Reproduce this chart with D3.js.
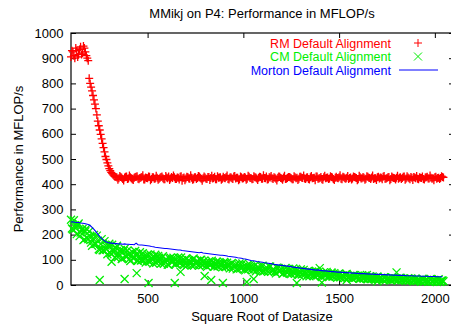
<!DOCTYPE html>
<html><head><meta charset="utf-8">
<script src="https://cdn.jsdelivr.net/npm/d3@7"></script>
<style>
html,body{margin:0;padding:0;background:#fff;}
svg{display:block;font-family:"Liberation Sans",Arial,Helvetica,sans-serif;}
</style></head>
<body>
<svg id="chart" width="451" height="329"></svg>
<script>
const title = "MMikj on P4: Performance in MFLOP/s";
const xLabel = "Square Root of Datasize";
const yLabel = "Performance in MFLOP/s";
const seriesNames = ["RM Default Alignment", "CM Default Alignment", "Morton Default Alignment"];
const xTicks = [500, 1000, 1500, 2000];
const yTicks = [0, 100, 200, 300, 400, 500, 600, 700, 800, 900, 1000];

// matrix sizes, first sampling grid
const sizes = [
 100,110,120,130,140,150,160,170,180,190,
 200,210,220,230,240,250,260,270,280,290,
 300,310,320,330,340,350,360,370,380,390,
 400,410,420,430,440,450,460,470,480,490,
 500,510,520,530,540,550,560,570,580,590,
 600,610,620,630,640,650,660,670,680,690,
 700,710,720,730,740,750,760,770,780,790,
 800,810,820,830,840,850,860,870,880,890,
 900,910,920,930,940,950,960,970,980,990,
 1000,1010,1020,1030,1040,1050,1060,1070,1080,1090,
 1100,1110,1120,1130,1140,1150,1160,1170,1180,1190,
 1200,1210,1220,1230,1240,1250,1260,1270,1280,1290,
 1300,1310,1320,1330,1340,1350,1360,1370,1380,1390,
 1400,1410,1420,1430,1440,1450,1460,1470,1480,1490,
 1500,1510,1520,1530,1540,1550,1560,1570,1580,1590,
 1600,1610,1620,1630,1640,1650,1660,1670,1680,1690,
 1700,1710,1720,1730,1740,1750,1760,1770,1780,1790,
 1800,1810,1820,1830,1840,1850,1860,1870,1880,1890,
 1900,1910,1920,1930,1940,1950,1960,1970,1980,1990,
 2000,2010,2020,2030,2040
];

// matrix sizes, second (interleaved) sampling grid
const sizes2 = [
 105,115,125,135,145,155,165,175,185,195,
 205,215,225,235,245,255,265,275,285,295,
 305,315,325,335,345,355,365,375,385,395,
 405,415,425,435,445,455,465,475,485,495,
 505,515,525,535,545,555,565,575,585,595,
 605,615,625,635,645,655,665,675,685,695,
 705,715,725,735,745,755,765,775,785,795,
 805,815,825,835,845,855,865,875,885,895,
 905,915,925,935,945,955,965,975,985,995,
 1005,1015,1025,1035,1045,1055,1065,1075,1085,1095,
 1105,1115,1125,1135,1145,1155,1165,1175,1185,1195,
 1205,1215,1225,1235,1245,1255,1265,1275,1285,1295,
 1305,1315,1325,1335,1345,1355,1365,1375,1385,1395,
 1405,1415,1425,1435,1445,1455,1465,1475,1485,1495,
 1505,1515,1525,1535,1545,1555,1565,1575,1585,1595,
 1605,1615,1625,1635,1645,1655,1665,1675,1685,1695,
 1705,1715,1725,1735,1745,1755,1765,1775,1785,1795,
 1805,1815,1825,1835,1845,1855,1865,1875,1885,1895,
 1905,1915,1925,1935,1945,1955,1965,1975,1985,1995,
 2005,2015,2025,2035,2045
];

const rmValues = [
 905,925,900,930,915,945,920,940,910,890,
 800,770,735,700,650,615,580,545,510,485,
 462,447,437,430,427,424,429,421,427,431,
 423,428,420,426,430,422,425,429,419,427,
 424,430,421,428,423,426,422,429,424,420,
 427,431,423,425,428,421,426,430,414,427,
 423,429,422,426,420,428,425,431,422,424,
 427,421,429,425,423,430,420,426,428,422,
 425,429,421,427,424,431,423,426,420,428,
 424,427,422,430,425,421,428,423,426,429,
 422,425,431,420,427,424,428,422,426,430,
 423,427,421,425,429,424,420,428,426,422,
 430,425,423,427,421,428,424,426,431,422,
 425,420,428,424,427,423,429,421,426,425,
 428,422,430,424,426,421,427,423,429,425,
 420,428,424,426,422,430,425,427,421,424,
 428,423,426,430,422,425,429,421,427,424,
 426,422,428,425,431,423,427,420,426,429,
 424,422,428,425,421,427,430,423,426,424,
 428,422,426,425,429
];

const rmValues2 = [
 930,910,940,905,935,915,948,925,900,820,
 785,752,718,675,632,598,562,528,498,473,
 454,442,433,429,418,433,426,415,430,421,
 435,424,417,429,432,420,427,436,419,425,
 431,416,428,422,434,418,426,431,420,433,
 424,417,429,435,421,427,419,432,425,416,
 430,423,436,418,428,421,433,426,414,431,
 422,429,417,434,425,420,432,427,418,430,
 424,435,419,428,421,433,426,416,431,423,
 429,418,434,425,420,432,427,417,430,422,
 436,424,419,428,433,421,426,415,431,425,
 418,434,422,429,427,420,432,424,417,430,
 426,435,421,428,419,433,425,416,431,423,
 429,418,434,426,421,432,427,417,430,424,
 436,420,428,422,433,425,419,431,427,416,
 434,423,429,418,432,426,421,435,424,417,
 430,427,420,433,422,428,416,431,425,419,
 434,426,421,430,418,432,424,429,417,427,
 433,420,426,431,419,428,423,435,422,416,
 430,425,421,432,427
];

const cmValues = [
 259,220,237,202,244,208,222,181,223,182,
 192,156,199,164,176,139,182,138,157,122,
 164,123,141,110,156,124,139,106,144,112,
 121,95,131,107,122,96,130,99,113,89,
 121,92,107,85,120,96,108,85,114,91,
 99,80,108,91,102,83,109,86,98,79,
 105,82,94,77,105,86,95,77,100,80,
 87,72,93,80,88,73,93,75,84,70,
 91,71,79,66,87,73,81,64,85,67,
 73,58,79,65,74,59,79,59,70,54,
 77,55,70,52,73,56,61,46,67,54,
 62,47,68,48,58,43,66,44,58,41,
 62,44,50,35,56,43,52,37,56,39,
 45,32,50,39,45,33,50,34,42,29,
 46,32,38,28,44,31,35,25,39,30,
 35,25,39,26,32,23,35,24,29,21,
 34,26,29,21,30,23,26,18,28,22,
 25,19,29,19,24,17,27,20,24,15,
 25,18,20,13,23,16,20,14,24,14,
 19,12,23,13,18
];

const cmValues2 = [
 224,257,225,237,194,218,178,213,187,212,
 168,185,164,196,142,163,138,174,142,156,
 127,160,131,147,110,135,103,135,115,137,
 103,119,106,135,97,114,97,126,102,115,
 94,121,100,112,88,115,97,109,84,102,
 81,104,91,108,84,96,88,109,82,97,
 77,98,85,101,79,92,80,99,79,96,
 77,86,79,96,73,84,74,90,78,85,
 72,88,76,83,65,78,62,79,68,85,
 62,73,62,80,65,74,54,72,61,74,
 55,65,57,74,52,63,52,69,55,64,
 44,62,51,64,46,55,47,64,42,53,
 42,60,45,54,35,51,40,55,40,53,
 36,44,38,52,33,42,34,47,36,43,
 31,37,32,43,29,36,29,40,30,36,
 26,32,27,37,24,30,24,34,26,30,
 23,27,24,31,21,26,21,29,23,26,
 20,28,21,26,19,22,17,26,19,23,
 17,20,17,25,14,19,15,23,16,20,
 15,20,13,18,15
];

const cmOutlierSizes  = [250, 312, 380, 443, 505, 642, 672, 798, 832, 893, 1018, 1054, 1279, 1399, 1410, 1540, 1645, 1700, 1800];
const cmOutlierValues = [20,  92,  24,  47,  8,   8,   52,  36,  20,  8,   12,   24,   8,    67,   10,   20,   40,   15,   50];

const mortonValues = [
 250,251,249,248,248,246,245,244,242,240,
 236,229,221,212,202,193,185,178,173,169,
 167,166,165,164,164,163,163,162,163,162,
 162,161,161,160,166,160,159,159,158,157,
 156,155,153,152,150,149,148,147,146,145,
 145,144,143,142,141,140,139,139,137,136,
 135,134,133,132,131,130,129,128,130,127,
 126,125,124,123,122,121,120,119,118,118,
 117,116,114,113,112,111,110,108,107,106,
 104,103,101,99,97,96,95,93,92,91,
 90,88,87,86,85,84,82,81,80,79,
 78,77,76,75,74,73,71,70,69,68,
 67,66,65,64,63,62,61,60,59,60,
 58,57,56,56,55,54,53,53,52,51,
 51,50,50,49,49,48,48,47,47,46,
 46,45,45,45,44,44,43,43,43,42,
 42,42,41,41,41,40,40,40,39,39,
 39,38,38,38,38,37,37,37,37,36,
 36,36,36,35,35,35,35,34,34,34,
 34,33,33,33,33
];

const colors = ["#ff0000", "#00ee00", "#0000ff"];

(function draw() {
  const svg = d3.select("#chart");
  const fontSize = 13;
  const pLeft = 71, pRight = 454, pTop = 33, pBottom = 285;

  const x = d3.scaleLinear().domain([100, 2100]).range([pLeft, pRight]);
  const y = d3.scaleLinear().domain([0, 1000]).range([pBottom, pTop]);

  function styleAxis(g, showLabels) {
    g.select(".domain").remove();
    g.selectAll(".tick line").attr("stroke", "#000").attr("stroke-width", 1);
    g.selectAll(".tick text").attr("fill", "#000").style("font-size", fontSize + "px")
      .style("font-family", '"Liberation Sans",Arial,sans-serif');
    if (!showLabels) g.selectAll(".tick text").remove();
  }
  svg.append("g").attr("transform", `translate(0,${pBottom})`)
    .call(d3.axisBottom(x).tickValues(xTicks).tickSize(-5).tickPadding(8.5).tickFormat(d3.format("d")))
    .call(g => styleAxis(g, true));
  svg.append("g").attr("transform", `translate(0,${pTop})`)
    .call(d3.axisTop(x).tickValues(xTicks).tickSize(-5))
    .call(g => styleAxis(g, false));
  svg.append("g").attr("transform", `translate(${pLeft},0)`)
    .call(d3.axisLeft(y).tickValues(yTicks).tickSize(-5).tickPadding(7.5).tickFormat(d3.format("d")))
    .call(g => styleAxis(g, true));
  svg.append("g").attr("transform", `translate(${pRight},0)`)
    .call(d3.axisRight(y).tickValues(yTicks).tickSize(-5))
    .call(g => styleAxis(g, false));

  svg.append("rect").attr("x", pLeft).attr("y", pTop)
    .attr("width", pRight - pLeft).attr("height", pBottom - pTop)
    .attr("fill", "none").attr("stroke", "#000").attr("stroke-width", 1.2);

  svg.append("text").attr("x", 262).attr("y", 18).attr("text-anchor", "middle")
    .style("font-size", fontSize + "px").attr("fill", "#000").text(title);
  svg.append("text").attr("x", 262).attr("y", 321).attr("text-anchor", "middle")
    .style("font-size", fontSize + "px").attr("fill", "#000").text(xLabel);
  svg.append("text").attr("transform", `translate(23,${(pTop + pBottom) / 2}) rotate(-90)`)
    .attr("text-anchor", "middle")
    .style("font-size", fontSize + "px").attr("fill", "#000").text(yLabel);

  const plusPath = "M-4,0H4M0,-4V4";
  const crossPath = "M-4,-4L4,4M-4,4L4,-4";
  const markerStroke = 1.3;

  const zip = (xs, ys) => xs.map((s, i) => [s, ys[i]]).filter(d => d[1] != null);
  const rmData = zip(sizes, rmValues).concat(zip(sizes2, rmValues2));
  const cmData = zip(sizes, cmValues).concat(zip(sizes2, cmValues2))
    .concat(zip(cmOutlierSizes, cmOutlierValues));
  const mortonData = zip(sizes, mortonValues);

  const plot = svg.append("g");
  plot.append("g").selectAll("path").data(rmData).join("path")
    .attr("transform", d => `translate(${x(d[0])},${y(d[1])})`)
    .attr("d", plusPath).attr("stroke", colors[0]).attr("stroke-width", markerStroke).attr("fill", "none");
  plot.append("g").selectAll("path").data(cmData).join("path")
    .attr("transform", d => `translate(${x(d[0])},${y(d[1])})`)
    .attr("d", crossPath).attr("stroke", colors[1]).attr("stroke-width", markerStroke).attr("fill", "none");
  plot.append("path").datum(mortonData)
    .attr("d", d3.line().x(d => x(d[0])).y(d => y(d[1])))
    .attr("stroke", colors[2]).attr("stroke-width", 1.1).attr("fill", "none");

  const legFont = 12.5;
  const legY = [47.5, 61, 74.5];
  const legTextX = 391, legSampleX = 418;
  seriesNames.forEach((name, i) => {
    svg.append("text").attr("x", legTextX).attr("y", legY[i]).attr("text-anchor", "end")
      .style("font-size", legFont + "px").attr("fill", colors[i]).text(name);
    const cy = legY[i] - 4.5;
    if (i === 0) {
      svg.append("path").attr("transform", `translate(${legSampleX},${cy})`).attr("d", plusPath)
        .attr("stroke", colors[i]).attr("fill", "none");
    } else if (i === 1) {
      svg.append("path").attr("transform", `translate(${legSampleX},${cy})`).attr("d", crossPath)
        .attr("stroke", colors[i]).attr("fill", "none");
    } else {
      svg.append("line").attr("x1", 399).attr("x2", 438).attr("y1", cy).attr("y2", cy)
        .attr("stroke", colors[i]).attr("stroke-width", 1);
    }
  });
})();
</script>
</body></html>
